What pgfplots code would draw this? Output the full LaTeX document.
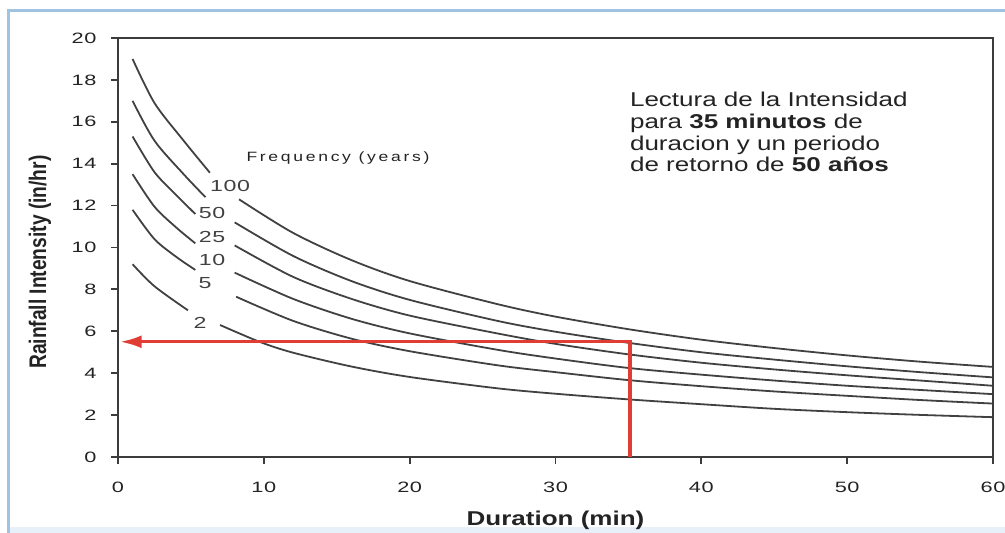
\documentclass[border=0pt]{standalone}
\usepackage{pgfplots}
\pgfplotsset{compat=1.18}
\usepackage{fontspec}
\setmainfont{Liberation Sans}[FakeStretch=1.3]
\newfontfamily\tickfont{Liberation Sans}[FakeStretch=1.45,LetterSpace=4]
\newfontfamily\freqfont{Liberation Sans}[FakeStretch=1.3,LetterSpace=20]
\newfontfamily\ylabfont{Liberation Sans}[FakeStretch=0.8]
\usetikzlibrary{arrows.meta}
\definecolor{curve}{RGB}{65,65,65}
\definecolor{axisc}{RGB}{60,60,60}
\definecolor{arrowred}{RGB}{224,62,52}
\definecolor{frameblue}{RGB}{160,195,225}
\definecolor{txt}{RGB}{35,35,35}
\begin{document}
\begin{tikzpicture}
\path[use as bounding box] (-118pt,-76pt) rectangle (887pt,457pt);
\fill[frameblue!25] (-110pt,-76pt) rectangle (887pt,-70pt);
\draw[frameblue, line width=3pt] (-109pt,-76pt) -- (-109pt,446pt) -- (887pt,446pt);
\begin{axis}[
  scale only axis, width=875pt, height=419pt,
  xmin=0, xmax=60, ymin=0, ymax=20,
  xtick={0,10,...,60}, ytick={0,2,...,20},
  xtick pos=bottom, ytick pos=left,
  tick align=outside, major tick length=7pt,
  axis line style={axisc, line width=2pt},
  every outer x axis line/.append style={axisc, line width=2pt},
  every outer y axis line/.append style={axisc, line width=2pt},
  tick style={axisc, line width=1.8pt},
  tick label style={font=\fontsize{15}{17}\tickfont, text=txt},
  /pgf/number format/assume math mode=true,
  yticklabel style={xshift=-11pt},
  xticklabel style={yshift=-14pt},
  xlabel={\fontsize{20}{22}\selectfont\bfseries Duration (min)},
  xlabel style={at={(axis description cs:0.5,0)}, anchor=center, yshift=-63pt, text=txt},
  ylabel={\fontsize{24}{26}\ylabfont\bfseries Rainfall Intensity (in/hr)},
  ylabel style={at={([xshift=-78pt]axis description cs:0,0.465)}, anchor=center, text=txt},
  crv/.style={curve, line width=1.8pt, smooth, no marks, solid},
]
% 100 years
\addplot[crv] coordinates {(1,19.0)(2.5,16.9)(4.5,15.1)(6.3,13.57)};
\addplot[crv] coordinates {(8.3,12.3)(12,10.7)(16,9.4)(20,8.4)(26,7.3)(30,6.7)(35,6.1)(40,5.6)(45,5.2)(50,4.85)(55,4.55)(60,4.3)};
% 50 years
\addplot[crv] coordinates {(1,17.0)(2.5,15.1)(4.5,13.5)(6.0,12.4)};
\addplot[crv] coordinates {(8.0,11.2)(12,9.6)(16,8.4)(20,7.5)(26,6.5)(30,5.98)(35,5.45)(40,5.0)(45,4.65)(50,4.33)(55,4.05)(60,3.8)};
% 25 years
\addplot[crv] coordinates {(1,15.3)(2.5,13.6)(4.0,12.5)(5.3,11.6)};
\addplot[crv] coordinates {(8.0,10.1)(12,8.6)(16,7.55)(20,6.75)(26,5.9)(30,5.4)(35,4.9)(40,4.5)(45,4.18)(50,3.9)(55,3.65)(60,3.4)};
% 10 years
\addplot[crv] coordinates {(1,13.5)(2.5,11.95)(4.0,10.95)(5.3,10.2)};
\addplot[crv] coordinates {(8.0,8.8)(12,7.55)(16,6.6)(20,5.9)(26,5.12)(30,4.7)(35,4.25)(40,3.93)(45,3.65)(50,3.4)(55,3.2)(60,3.0)};
% 5 years
\addplot[crv] coordinates {(1,11.8)(2.5,10.4)(4.0,9.55)(5.3,8.93)};
\addplot[crv] coordinates {(8.1,7.65)(12,6.5)(16,5.65)(20,5.05)(26,4.38)(30,4.05)(35,3.67)(40,3.38)(45,3.13)(50,2.92)(55,2.72)(60,2.55)};
% 2 years
\addplot[crv] coordinates {(1,9.2)(2.5,8.15)(4.8,7.0)};
\addplot[crv] coordinates {(7.0,6.3)(9.7,5.5)(12,4.98)(16,4.32)(20,3.82)(26,3.28)(30,3.02)(35,2.75)(40,2.52)(45,2.3)(50,2.14)(55,2.01)(60,1.9)};
% reading arrow
\addplot[arrowred, line width=3.4pt, sharp plot, no marks, -{Latex[length=22pt,width=13pt]}] coordinates {(35.1,0)(35.1,5.5)(0.12,5.5)};
% labels
\node[font=\fontsize{16}{18}\tickfont, text=curve] at (axis cs:7.68,12.94) {100};
\node[font=\fontsize{16}{18}\tickfont, text=curve] at (axis cs:6.45,11.65) {50};
\node[font=\fontsize{16}{18}\tickfont, text=curve] at (axis cs:6.45,10.5) {25};
\node[font=\fontsize{16}{18}\tickfont, text=curve] at (axis cs:6.45,9.4) {10};
\node[font=\fontsize{16}{18}\tickfont, text=curve] at (axis cs:5.97,8.3) {5};
\node[font=\fontsize{16}{18}\tickfont, text=curve] at (axis cs:5.62,6.4) {2};
\node[anchor=west, font=\fontsize{13.5}{15}\freqfont, text=txt] at (axis cs:8.57,14.27) {Frequency (years)};
\node[anchor=north west, align=left, inner sep=0pt, font=\fontsize{20}{21.7}\selectfont, text=txt] at (axis cs:35.1,17.42) {Lectura de la Intensidad\\para \textbf{35 minutos} de\\duracion y un periodo\\de retorno de \textbf{50 años}};
\end{axis}
\end{tikzpicture}
\end{document}
